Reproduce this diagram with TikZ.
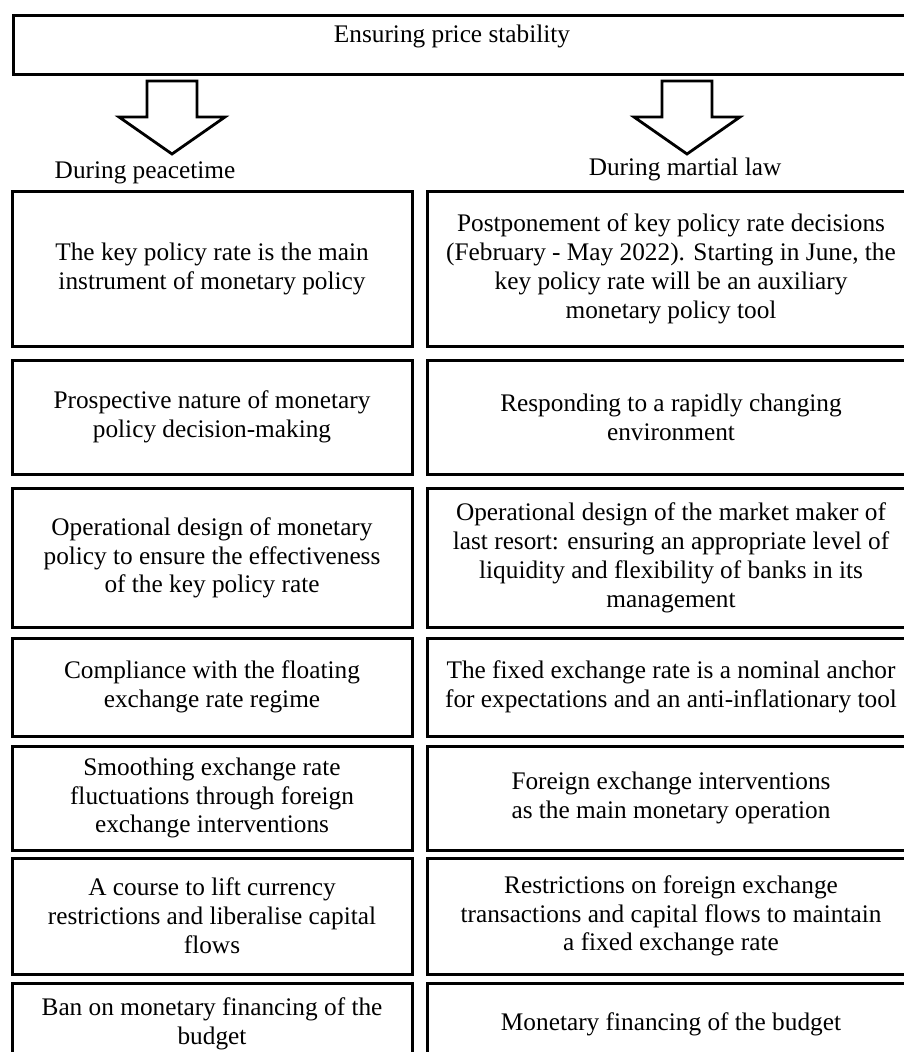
\documentclass[tikz,border=0pt]{standalone}
\usepackage{fontspec}
\setmainfont{Liberation Serif}
\usetikzlibrary{calc}

\begin{document}
\begin{tikzpicture}[x=1pt, y=-1pt, font=\fontsize{25.3}{28.8}\selectfont,
  frame/.style={draw, line width=3pt, inner sep=0pt, align=center},
  peace/.style={frame, minimum width=400, minimum height=#1},
  war/.style={frame, minimum width=488, minimum height=#1},
  hollow/.style={draw, line width=2.8pt, line join=miter, fill=white}]

\useasboundingbox (0,0) rectangle (904,1052);
\clip (0,0) rectangle (904,1052);

% goal
\node[frame, minimum width=903, minimum height=59, anchor=north west] (goal) at (12,14) {};
\node[anchor=base] (goaltxt) at (452,42) {Ensuring price stability};

% block arrows
\foreach \cx in {172,687}
  \draw[hollow] (\cx-25,81) -- (\cx+25,81) -- (\cx+25,117) -- (\cx+53,117)
    -- (\cx,154) -- (\cx-53,117) -- (\cx-25,117) -- cycle;

\node[anchor=base] (peacelbl) at (145,178) {During peacetime};
\node[anchor=base] (warlbl) at (685,175) {During martial law};

% peacetime column
\node[peace=155] (peace1) at (212,269) {The key policy rate is the main\\instrument of monetary policy};
\node[peace=114] (peace2) at (212,417) {Prospective nature of monetary\\policy decision-making};
\node[peace=139] (peace3) at (212,558) {Operational design of monetary\\policy to ensure the effectiveness\\of the key policy rate};
\node[peace=98] (peace4) at (212,687) {Compliance with the floating\\exchange rate regime};
\node[peace=104] (peace5) at (212,798) {Smoothing exchange rate\\fluctuations through foreign\\exchange interventions};
\node[peace=116] (peace6) at (212,916) {A course to lift currency\\restrictions and liberalise capital\\flows};
\node[peace=82] (peace7) at (212,1024) {Ban on monetary financing of the\\budget};

% martial law column
\node[war=155] (war1) at (671,269) {Postponement of key policy rate decisions\\(February - May 2022). Starting in June, the\\key policy rate will be an auxiliary\\monetary policy tool};
\node[war=114] (war2) at (671,417) {Responding to a rapidly changing\\environment};
\node[war=139] (war3) at (671,558) {Operational design of the market maker of\\last resort: ensuring an appropriate level of\\liquidity and flexibility of banks in its\\management};
\node[war=98] (war4) at (671,687) {The fixed exchange rate is a nominal anchor\\for expectations and an anti-inflationary tool};
\node[war=104] (war5) at (671,798) {Foreign exchange interventions\\as the main monetary operation};
\node[war=116] (war6) at (671,916) {Restrictions on foreign exchange\\transactions and capital flows to maintain\\a fixed exchange rate};
\node[war=82] (war7) at (671,1024) {Monetary financing of the budget};

\end{tikzpicture}
\end{document}
